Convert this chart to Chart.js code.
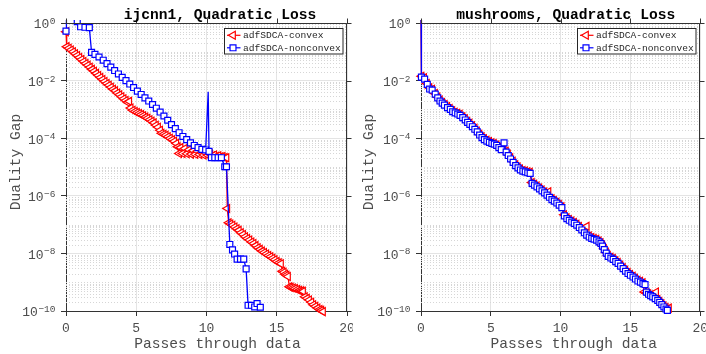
<!DOCTYPE html>
<html>
<head>
<meta charset="utf-8">
<script src="https://cdn.jsdelivr.net/npm/chart.js@4.4.1/dist/chart.umd.min.js"></script>
<style>
  html, body { margin: 0; padding: 0; background: #fff; }
  #wrap { position: relative; width: 706px; height: 354px; }
  canvas { position: absolute; top: 0; }
  #left { left: 0; }
  #right { left: 353px; }
</style>
</head>
<body>
<div id="wrap">
  <canvas id="left" width="353" height="354"></canvas>
  <canvas id="right" width="353" height="354"></canvas>
</div>
<script>
const xTicks = [0, 5, 10, 15, 20];
const yTicks = [1e-10, 1e-8, 1e-6, 1e-4, 1e-2, 1];
const seriesNames = ["adfSDCA-convex", "adfSDCA-nonconvex"];

// ijcnn1
const ijcnnConvexX = [0, 0.05, 0.2, 0.35, 0.5, 0.65, 0.8, 0.95, 1.1, 1.25, 1.4, 1.55, 1.7, 1.85, 2.0, 2.15, 2.3, 2.45, 2.6, 2.75,
  2.9, 3.05, 3.2, 3.35, 3.5, 3.65, 3.8, 3.95, 4.1, 4.25, 4.4, 4.5, 4.6, 4.75, 4.9, 5.05, 5.2, 5.35, 5.5, 5.65,
  5.8, 5.95, 6.1, 6.25, 6.4, 6.55, 6.7, 6.8, 6.95, 7.1, 7.25, 7.4, 7.55, 7.7, 7.85, 7.95, 8.05, 8.15, 8.3, 8.45,
  8.6, 8.75, 8.9, 9.05, 9.2, 9.35, 9.5, 9.65, 9.8, 9.95, 10.1, 10.25, 10.4, 10.55, 10.7, 10.85, 11.0, 11.15, 11.3, 11.42,
  11.48, 11.58, 11.7, 11.85, 12.0, 12.15, 12.3, 12.45, 12.6, 12.75, 12.9, 13.05, 13.2, 13.35, 13.5, 13.65, 13.8, 13.95, 14.1, 14.25,
  14.4, 14.55, 14.7, 14.85, 15.0, 15.15, 15.3, 15.4, 15.5, 15.6, 15.7, 15.8, 15.9, 16.0, 16.15, 16.3, 16.45, 16.6, 16.75, 16.87,
  17.0, 17.15, 17.3, 17.46, 17.6, 17.75, 17.9, 18.05, 18.17, 18.29];
const ijcnnConvexY = [5.0e-1, 1.51e-1, 1.32e-1, 1.15e-1, 1.0e-1, 8.5e-2, 7.4e-2, 6.3e-2, 5.4e-2, 4.6e-2, 3.9e-2, 3.4e-2, 2.9e-2, 2.45e-2, 2.1e-2, 1.78e-2, 1.51e-2, 1.29e-2, 1.10e-2, 9.3e-3,
  7.9e-3, 6.9e-3, 5.9e-3, 5.0e-3, 4.4e-3, 3.7e-3, 3.2e-3, 2.75e-3, 2.35e-3, 2.05e-3, 1.74e-3, 1.9e-3, 1.12e-3, 9.3e-4, 8.5e-4, 7.8e-4, 7.2e-4, 6.6e-4, 6.0e-4, 5.4e-4,
  4.9e-4, 4.4e-4, 3.9e-4, 3.4e-4, 2.8e-4, 2.4e-4, 1.9e-4, 1.48e-4, 1.38e-4, 1.26e-4, 1.12e-4, 1.0e-4, 8.9e-5, 7.9e-5, 6.6e-5, 5.0e-5, 2.95e-5, 4.7e-5, 2.95e-5, 4.4e-5,
  2.9e-5, 4.0e-5, 2.8e-5, 3.7e-5, 2.75e-5, 3.5e-5, 2.7e-5, 3.2e-5, 2.6e-5, 3.0e-5, 2.57e-5, 2.8e-5, 2.45e-5, 2.6e-5, 2.35e-5, 2.45e-5, 2.25e-5, 2.3e-5, 2.15e-5, 2.1e-5,
  3.6e-7, 1.15e-7, 1.05e-7, 9.5e-8, 8.3e-8, 7.2e-8, 6.3e-8, 5.2e-8, 4.5e-8, 3.8e-8, 3.3e-8, 2.9e-8, 2.5e-8, 2.2e-8, 1.86e-8, 1.58e-8, 1.38e-8, 1.2e-8, 1.07e-8, 9.5e-9,
  8.5e-9, 7.6e-9, 6.8e-9, 6.0e-9, 5.2e-9, 4.7e-9, 4.4e-9, 2.4e-9, 2.2e-9, 1.9e-9, 1.74e-9, 1.58e-9, 6.9e-10, 6.6e-10, 6.3e-10, 6.0e-10, 5.6e-10, 5.2e-10, 5.0e-10, 4.8e-10,
  3.1e-10, 2.75e-10, 2.4e-10, 2.0e-10, 1.66e-10, 1.45e-10, 1.26e-10, 1.12e-10, 1.05e-10, 9.5e-11];

const ijcnnNonconvexX = [0, 0.03, 0.8, 1.04, 1.35, 1.66, 1.82, 2.06, 2.35, 2.65, 2.92, 3.19, 3.46, 3.73, 4.0, 4.27, 4.54, 4.81, 5.08, 5.35,
  5.62, 5.89, 6.16, 6.43, 6.7, 6.97, 7.24, 7.51, 7.78, 8.05, 8.32, 8.59, 8.86, 9.13, 9.4, 9.67, 9.94, 10.12, 10.18, 10.35,
  10.59, 10.83, 11.06, 11.3, 11.42, 11.66, 11.85, 12.0, 12.18, 12.42, 12.65, 12.82, 12.96, 13.2, 13.43, 13.6, 13.83];
const ijcnnNonconvexY = [5.2e-1, 2.0, 1.12, 7.4e-1, 7.1e-1, 6.9e-1, 9.5e-2, 8.1e-2, 6.6e-2, 5.1e-2, 3.9e-2, 2.95e-2, 2.24e-2, 1.70e-2, 1.29e-2, 1.0e-2, 7.6e-3, 5.75e-3, 4.3e-3, 3.3e-3,
  2.5e-3, 1.95e-3, 1.48e-3, 1.1e-3, 8.1e-4, 5.9e-4, 4.2e-4, 2.95e-4, 2.14e-4, 1.55e-4, 1.15e-4, 8.9e-5, 6.9e-5, 5.6e-5, 4.7e-5, 4.1e-5, 3.9e-5, 4.1e-3, 3.5e-5, 2.1e-5,
  2.1e-5, 2.1e-5, 2.1e-5, 1.02e-5, 1.02e-5, 2.04e-8, 1.32e-8, 9.5e-9, 6.3e-9, 6.3e-9, 6.3e-9, 2.9e-9, 1.58e-10, 1.58e-10, 1.38e-10, 1.82e-10, 1.35e-10];

// mushrooms
const mushConvexX = [0, 0.03, 0.22, 0.42, 0.6, 0.8, 1.0, 1.18, 1.35, 1.52, 1.7, 1.88, 2.06, 2.24, 2.42, 2.6, 2.78, 2.97, 3.15, 3.32,
  3.48, 3.66, 3.84, 4.01, 4.18, 4.35, 4.52, 4.7, 4.88, 5.05, 5.22, 5.4, 5.56, 5.73, 5.92, 6.08, 6.23, 6.4, 6.58, 6.76,
  6.93, 7.1, 7.28, 7.45, 7.63, 7.8, 7.94, 8.11, 8.29, 8.47, 8.65, 8.83, 9.01, 9.13, 9.36, 9.53, 9.71, 9.88, 10.07, 10.25,
  10.43, 10.6, 10.78, 10.96, 11.14, 11.32, 11.5, 11.68, 11.87, 12.03, 12.21, 12.38, 12.56, 12.73, 12.87, 12.98, 13.11, 13.25, 13.39, 13.58,
  13.75, 13.93, 14.1, 14.28, 14.46, 14.63, 14.81, 14.98, 15.17, 15.34, 15.52, 15.7, 15.88, 16.0, 16.13, 16.28, 16.43, 16.58, 16.84, 16.94,
  17.08, 17.23, 17.38, 17.53, 17.76];
const mushConvexY = [2.0, 1.41e-2, 1.26e-2, 7.9e-3, 5.6e-3, 5.0e-3, 3.55e-3, 2.7e-3, 2.1e-3, 1.74e-3, 1.48e-3, 1.26e-3, 1.07e-3, 8.9e-4, 7.9e-4, 7.4e-4, 6.8e-4, 5.6e-4, 4.7e-4, 3.8e-4,
  3.3e-4, 2.7e-4, 2.2e-4, 1.74e-4, 1.38e-4, 1.12e-4, 9.5e-5, 8.5e-5, 7.6e-5, 6.9e-5, 6.5e-5, 5.8e-5, 4.8e-5, 4.2e-5, 3.8e-5, 3.55e-5, 2.75e-5, 2.1e-5, 1.58e-5, 1.2e-5,
  1.0e-5, 8.5e-6, 7.6e-6, 7.2e-6, 6.8e-6, 6.5e-6, 2.9e-6, 2.5e-6, 2.2e-6, 1.86e-6, 1.58e-6, 1.35e-6, 1.15e-6, 1.38e-6, 7.9e-7, 6.9e-7, 6.0e-7, 5.0e-7, 4.2e-7, 2.2e-7,
  1.74e-7, 1.51e-7, 1.32e-7, 1.17e-7, 1.02e-7, 8.5e-8, 6.9e-8, 5.6e-8, 8.7e-8, 4.0e-8, 3.55e-8, 3.3e-8, 3.1e-8, 2.7e-8, 2.35e-8, 1.9e-8, 1.45e-8, 1.1e-8, 8.5e-9, 7.4e-9,
  6.6e-9, 5.6e-9, 4.8e-9, 3.9e-9, 3.2e-9, 2.6e-9, 2.15e-9, 1.86e-9, 1.62e-9, 1.38e-9, 1.17e-9, 1.07e-9, 9.5e-10, 4.6e-10, 4.2e-10, 4.0e-10, 3.6e-10, 3.3e-10, 4.6e-10, 2.5e-10,
  2.15e-10, 1.78e-10, 1.48e-10, 1.32e-10, 1.26e-10];

const mushNonconvexX = [0, 0.03, 0.26, 0.45, 0.62, 0.8, 1.02, 1.2, 1.36, 1.52, 1.68, 1.9, 2.1, 2.27, 2.45, 2.63, 2.8, 2.99, 3.17, 3.34,
  3.5, 3.68, 3.86, 4.03, 4.2, 4.37, 4.54, 4.72, 4.9, 5.08, 5.25, 5.42, 5.58, 5.75, 5.95, 6.1, 6.25, 6.42, 6.6, 6.78,
  6.95, 7.12, 7.3, 7.47, 7.65, 7.82, 7.96, 8.13, 8.31, 8.49, 8.67, 8.85, 9.03, 9.2, 9.38, 9.55, 9.73, 9.9, 10.09, 10.27,
  10.45, 10.62, 10.8, 10.98, 11.16, 11.34, 11.52, 11.7, 11.87, 12.05, 12.23, 12.4, 12.58, 12.75, 12.89, 13.0, 13.13, 13.27, 13.41, 13.6,
  13.77, 13.95, 14.12, 14.3, 14.48, 14.65, 14.83, 15.0, 15.19, 15.36, 15.54, 15.72, 15.9, 16.05, 16.15, 16.3, 16.45, 16.6, 16.78, 16.96,
  17.1, 17.25, 17.4, 17.55, 17.65];
const mushNonconvexY = [2.0, 1.32e-2, 1.12e-2, 7.4e-3, 5.1e-3, 4.7e-3, 3.4e-3, 2.5e-3, 1.95e-3, 1.66e-3, 1.41e-3, 1.15e-3, 1.0e-3, 8.3e-4, 7.6e-4, 6.9e-4, 6.2e-4, 5.2e-4, 4.3e-4, 3.55e-4,
  3.0e-4, 2.5e-4, 2.04e-4, 1.66e-4, 1.29e-4, 1.05e-4, 8.9e-5, 7.9e-5, 7.1e-5, 6.6e-5, 6.2e-5, 5.6e-5, 4.7e-5, 4.0e-5, 6.9e-5, 3.3e-5, 2.5e-5, 1.9e-5, 1.45e-5, 1.12e-5,
  9.3e-6, 7.9e-6, 7.2e-6, 6.8e-6, 6.3e-6, 6.0e-6, 2.7e-6, 2.35e-6, 2.04e-6, 1.74e-6, 1.48e-6, 1.26e-6, 1.05e-6, 8.9e-7, 7.4e-7, 6.5e-7, 5.6e-7, 4.7e-7, 3.9e-7, 2.0e-7,
  1.62e-7, 1.41e-7, 1.23e-7, 1.10e-7, 9.5e-8, 7.9e-8, 6.5e-8, 5.2e-8, 4.3e-8, 3.7e-8, 3.3e-8, 3.1e-8, 2.9e-8, 2.5e-8, 2.2e-8, 1.78e-8, 1.35e-8, 1.02e-8, 7.9e-9, 6.9e-9,
  6.2e-9, 5.2e-9, 4.5e-9, 3.6e-9, 2.95e-9, 2.4e-9, 2.0e-9, 1.74e-9, 1.51e-9, 1.29e-9, 1.10e-9, 1.0e-9, 8.9e-10, 8.3e-10, 4.5e-10, 3.8e-10, 3.4e-10, 3.1e-10, 2.7e-10, 2.35e-10,
  2.0e-10, 1.66e-10, 1.38e-10, 1.17e-10, 1.05e-10];

const RED = "#ff0000";
const BLUE = "#0000ff";
const MONO = '"Liberation Mono", "Courier New", monospace';
const TEXT_GRAY = "#4d4d4d";
const AXIS = "#333333";

function points(xs, ys) {
  return xs.map((x, i) => ({ x: x, y: ys[i] }));
}

function drawMarker(ctx, style, x, y) {
  ctx.save();
  ctx.lineWidth = 1.2;
  ctx.strokeStyle = style.color;
  ctx.fillStyle = "#fff";
  ctx.beginPath();
  if (style.shape === "triangle") {
    const r = style.radius;
    ctx.moveTo(x - r, y);
    ctx.lineTo(x + r * 0.5, y - r * 0.866);
    ctx.lineTo(x + r * 0.5, y + r * 0.866);
    ctx.closePath();
  } else {
    const s = style.radius * Math.SQRT1_2;
    ctx.rect(x - s, y - s, 2 * s, 2 * s);
  }
  ctx.fill();
  ctx.stroke();
  ctx.restore();
}

const matlabAxes = {
  id: "matlabAxes",
  beforeDatasetsDraw(chart) {
    const { ctx, chartArea: a } = chart;
    const y = chart.scales.y;
    ctx.save();
    ctx.beginPath();
    ctx.rect(a.left, a.top, a.right - a.left, a.bottom - a.top);
    ctx.clip();
    ctx.strokeStyle = "#d6d6d6";
    ctx.lineWidth = 1;
    ctx.setLineDash([1, 2]);
    for (let e = -10; e < 0; e++) {
      for (let m = 1; m <= 9; m++) {
        if (m === 1 && e % 2 === 0) continue;
        const py = Math.round(y.getPixelForValue(m * Math.pow(10, e))) + 0.5;
        ctx.beginPath();
        ctx.moveTo(a.left, py);
        ctx.lineTo(a.right, py);
        ctx.stroke();
      }
    }
    ctx.restore();
  },
  afterDraw(chart, args, opts) {
    const { ctx, chartArea: a } = chart;
    const xs = chart.scales.x;
    const ys = chart.scales.y;
    ctx.save();

    // top and right edges of the box, with outward ticks
    ctx.strokeStyle = AXIS;
    ctx.lineWidth = 1;
    const L = Math.round(a.left) + 0.5;
    const R = Math.round(a.right) - 0.5;
    const T = Math.round(a.top) + 0.5;
    ctx.beginPath();
    ctx.moveTo(L, T);
    ctx.lineTo(R, T);
    ctx.lineTo(R, Math.round(a.bottom));
    ctx.stroke();
    xTicks.forEach((v) => {
      const px = Math.round(xs.getPixelForValue(v)) + 0.5;
      ctx.beginPath();
      ctx.moveTo(px, T);
      ctx.lineTo(px, T - 5);
      ctx.stroke();
    });
    yTicks.forEach((v) => {
      const py = Math.round(ys.getPixelForValue(v)) + 0.5;
      ctx.beginPath();
      ctx.moveTo(R, py);
      ctx.lineTo(R + 5, py);
      ctx.stroke();
    });

    // x tick labels
    ctx.fillStyle = TEXT_GRAY;
    ctx.font = "13px " + MONO;
    ctx.textAlign = "center";
    ctx.textBaseline = "alphabetic";
    xTicks.forEach((v) => {
      ctx.fillText(String(v), xs.getPixelForValue(v), 332);
    });

    // y tick labels 10^k
    yTicks.forEach((v) => {
      const py = ys.getPixelForValue(v);
      const exp = Math.round(Math.log10(v));
      const expText = exp < 0 ? "\u2212" + Math.abs(exp) : String(exp);
      const right = a.left - 10.5;
      ctx.font = "9.5px " + MONO;
      ctx.textAlign = "right";
      ctx.fillText(expText, right, py + 1);
      const w = ctx.measureText(expText).width;
      ctx.font = "13px " + MONO;
      ctx.fillText("10", right - w - 0.5, py + 5.3);
    });

    // axis labels
    ctx.font = "14.6px " + MONO;
    ctx.textAlign = "center";
    ctx.fillText(opts.xLabel, opts.xLabelX, 348);
    ctx.save();
    ctx.translate(opts.yLabelX, opts.yLabelY);
    ctx.rotate(-Math.PI / 2);
    ctx.textBaseline = "middle";
    ctx.fillText(opts.yLabel, 0, 0);
    ctx.restore();

    // title
    ctx.fillStyle = "#000";
    ctx.font = "bold 14.6px " + MONO;
    ctx.textAlign = "center";
    ctx.fillText(opts.title, opts.titleX, 18.5);

    // legend
    const bx = Math.round(a.right) - 123 + 0.5;
    const by = Math.round(a.top) + 5.5;
    const bw = 118.5;
    const bh = 25.5;
    ctx.fillStyle = "#fff";
    ctx.fillRect(bx, by, bw, bh);
    ctx.strokeStyle = "#262626";
    ctx.lineWidth = 1;
    ctx.strokeRect(bx, by, bw, bh);
    const entries = [
      { name: seriesNames[0], color: RED, shape: "triangle", radius: 4.6 },
      { name: seriesNames[1], color: BLUE, shape: "rect", radius: 4.2 }
    ];
    entries.forEach((e, i) => {
      const cy = by + 6.8 + i * 12.5;
      ctx.strokeStyle = e.color;
      ctx.lineWidth = 1.2;
      ctx.beginPath();
      ctx.moveTo(bx + 2.5, cy);
      ctx.lineTo(bx + 16, cy);
      ctx.stroke();
      drawMarker(ctx, e, bx + 8.5, cy);
      ctx.fillStyle = "#262626";
      ctx.font = "9.6px " + MONO;
      ctx.textAlign = "left";
      ctx.textBaseline = "middle";
      ctx.fillText(e.name, bx + 18.5, cy + 0.5);
    });

    ctx.restore();
  }
};

function makeChart(id, cfg) {
  const spikeIdx = cfg.noMarkerIndex;
  return new Chart(document.getElementById(id), {
    type: "line",
    data: {
      datasets: [
        {
          label: seriesNames[0],
          data: points(cfg.convexX, cfg.convexY),
          borderColor: RED,
          borderWidth: 1.3,
          pointStyle: "triangle",
          rotation: -90,
          pointRadius: 4.6,
          pointBorderWidth: 1.2,
          pointBorderColor: RED,
          pointBackgroundColor: "#fff",
          order: 1,
          clip: { left: 6, right: 6, top: 3, bottom: 6 }
        },
        {
          label: seriesNames[1],
          data: points(cfg.nonconvexX, cfg.nonconvexY),
          borderColor: BLUE,
          borderWidth: 1.3,
          pointStyle: "rect",
          pointRadius: (c) => (c.dataIndex === spikeIdx ? 0 : 4.2),
          pointBorderWidth: 1.2,
          pointBorderColor: BLUE,
          pointBackgroundColor: "#fff",
          order: 0,
          clip: { left: 6, right: 6, top: 3, bottom: 6 }
        }
      ]
    },
    options: {
      responsive: false,
      animation: false,
      devicePixelRatio: 1,
      events: [],
      layout: { padding: { top: 23, right: cfg.rightPad, left: 0, bottom: 0 } },
      scales: {
        x: {
          type: "linear",
          min: 0,
          max: 20,
          afterBuildTicks: (s) => { s.ticks = xTicks.map((v) => ({ value: v })); },
          afterFit: (s) => { s.height = 43; },
          ticks: { display: false },
          grid: { color: "#e4e4e4", tickColor: AXIS, tickLength: 5, drawTicks: true },
          border: { color: AXIS, width: 1 }
        },
        y: {
          type: "logarithmic",
          min: 1e-10,
          max: 1,
          afterBuildTicks: (s) => { s.ticks = yTicks.map((v) => ({ value: v })); },
          afterFit: (s) => { s.width = cfg.leftWidth; },
          ticks: { display: false },
          grid: { color: "#e4e4e4", tickColor: AXIS, tickLength: 5, drawTicks: true },
          border: { color: AXIS, width: 1 }
        }
      },
      plugins: {
        legend: { display: false },
        tooltip: { enabled: false },
        matlabAxes: {
          title: cfg.title,
          titleX: cfg.titleX,
          xLabel: "Passes through data",
          xLabelX: cfg.xLabelX,
          yLabel: "Duality Gap",
          yLabelX: 16,
          yLabelY: 162
        }
      }
    },
    plugins: [matlabAxes]
  });
}

makeChart("left", {
  title: "ijcnn1, Quadratic Loss",
  titleX: 220,
  xLabelX: 217.5,
  leftWidth: 66,
  rightPad: 6,
  convexX: ijcnnConvexX,
  convexY: ijcnnConvexY,
  nonconvexX: ijcnnNonconvexX,
  nonconvexY: ijcnnNonconvexY,
  noMarkerIndex: ijcnnNonconvexX.indexOf(10.12)
});

makeChart("right", {
  title: "mushrooms, Quadratic Loss",
  titleX: 212.7,
  xLabelX: 220.7,
  leftWidth: 68,
  rightPad: 4,
  convexX: mushConvexX,
  convexY: mushConvexY,
  nonconvexX: mushNonconvexX,
  nonconvexY: mushNonconvexY,
  noMarkerIndex: -1
});
</script>
</body>
</html>
